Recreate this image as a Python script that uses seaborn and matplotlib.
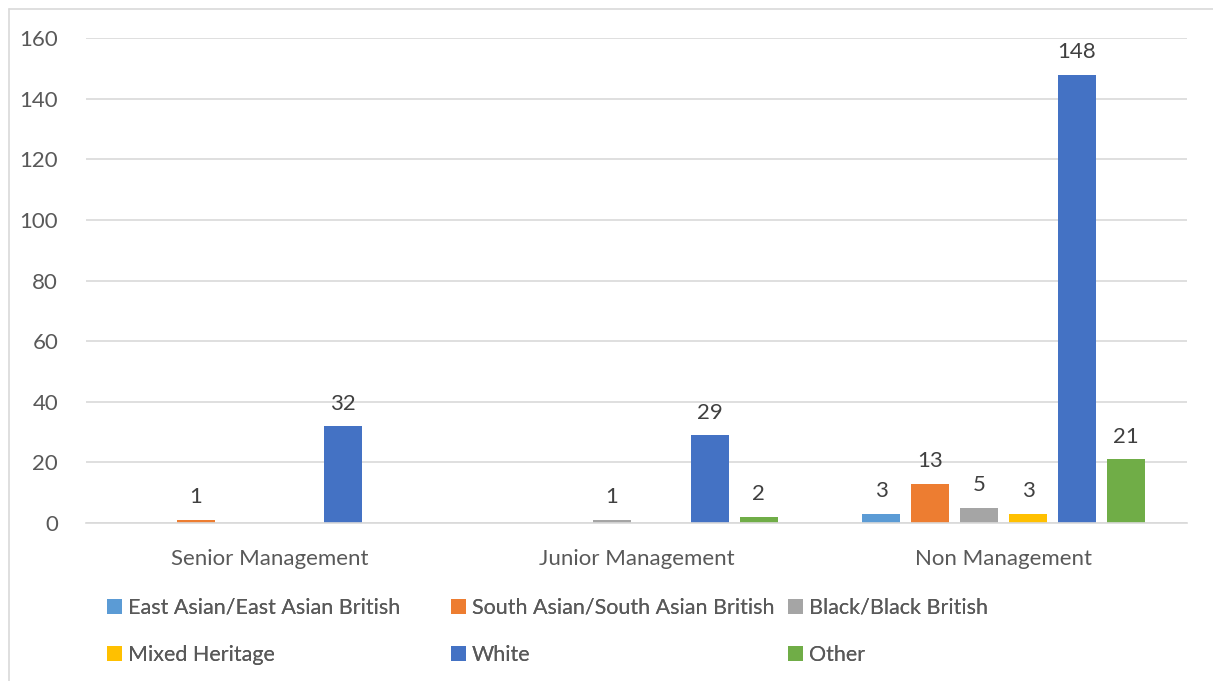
import matplotlib
matplotlib.use("Agg")
import matplotlib.pyplot as plt
import seaborn as sns
import pandas as pd
from matplotlib.lines import Line2D
from matplotlib.patches import Patch

# Staff counts by management level and ethnic group
levels = ["Senior Management", "Junior Management", "Non Management"]
groups = [
    "East Asian/East Asian British",
    "South Asian/South Asian British",
    "Black/Black British",
    "Mixed Heritage",
    "White",
    "Other",
]
east_asian = [0, 0, 3]
south_asian = [1, 0, 13]
black = [0, 1, 5]
mixed = [0, 0, 3]
white = [32, 29, 148]
other = [0, 2, 21]

colors = ["#5B9BD5", "#ED7D31", "#A5A5A5", "#FFC000", "#4472C4", "#70AD47"]

series = [east_asian, south_asian, black, mixed, white, other]
rows = []
for g, vals in zip(groups, series):
    for lvl, v in zip(levels, vals):
        rows.append({"level": lvl, "group": g, "count": v})
df = pd.DataFrame(rows)

sns.set_theme(style="white")
plt.rcParams["font.family"] = ["Lato", "DejaVu Sans"]
text_grey = "#595959"
fs = 16

fig = plt.figure(figsize=(12.13, 6.81), dpi=100)
ax = fig.add_axes([0.0709, 0.232, 0.9077, 0.712])

sns.barplot(
    data=df, x="level", y="count", hue="group",
    order=levels, hue_order=groups, palette=colors,
    width=0.8, gap=0.22, ax=ax, legend=False, saturation=1,
    edgecolor="none", linewidth=0,
)

ax.set_ylim(0, 160)
ax.set_yticks(range(0, 161, 20))
ax.set_xlim(-0.5, 2.5)
ax.yaxis.grid(True, color="#D9D9D9", linewidth=1.2)
ax.set_axisbelow(True)
for side in ["top", "right", "left"]:
    ax.spines[side].set_visible(False)
ax.spines["bottom"].set_color("#D9D9D9")
ax.spines["bottom"].set_linewidth(1.2)
ax.set_xlabel("")
ax.set_ylabel("")
ax.tick_params(axis="both", length=0, labelsize=fs, colors=text_grey)
ax.tick_params(axis="y", pad=20)
ax.tick_params(axis="x", pad=19)

# Value labels on non-zero bars
for container, vals in zip(ax.containers, series):
    labels = [str(v) if v > 0 else "" for v in vals]
    ax.bar_label(container, labels=labels, padding=9, fontsize=fs, color="#404040")

# Legend: three columns of two rows each, placed independently
handles = [Patch(facecolor=c, edgecolor="none") for c in colors]
column_x = [107, 451, 788]
for col, x in enumerate(column_x):
    idx = [col, col + 3]
    leg = fig.legend(
        [handles[i] for i in idx], [groups[i] for i in idx],
        ncol=1, loc="upper left", bbox_to_anchor=(x / 1213, 1 - 598 / 681),
        frameon=False, fontsize=15.5, labelcolor=text_grey,
        handlelength=0.68, handleheight=0.68, handletextpad=0.3,
        labelspacing=1.25, borderaxespad=0, borderpad=0,
    )
    fig.add_artist(leg)

# Chart frame (top and left edges)
fig.add_artist(Line2D([9 / 1213, 1.0], [1 - 9 / 681, 1 - 9 / 681],
                      transform=fig.transFigure, color="#D9D9D9", linewidth=1.2))
fig.add_artist(Line2D([9 / 1213, 9 / 1213], [0, 1 - 9 / 681],
                      transform=fig.transFigure, color="#D9D9D9", linewidth=1.2))

fig.savefig("out.png", dpi=100, facecolor="white")
